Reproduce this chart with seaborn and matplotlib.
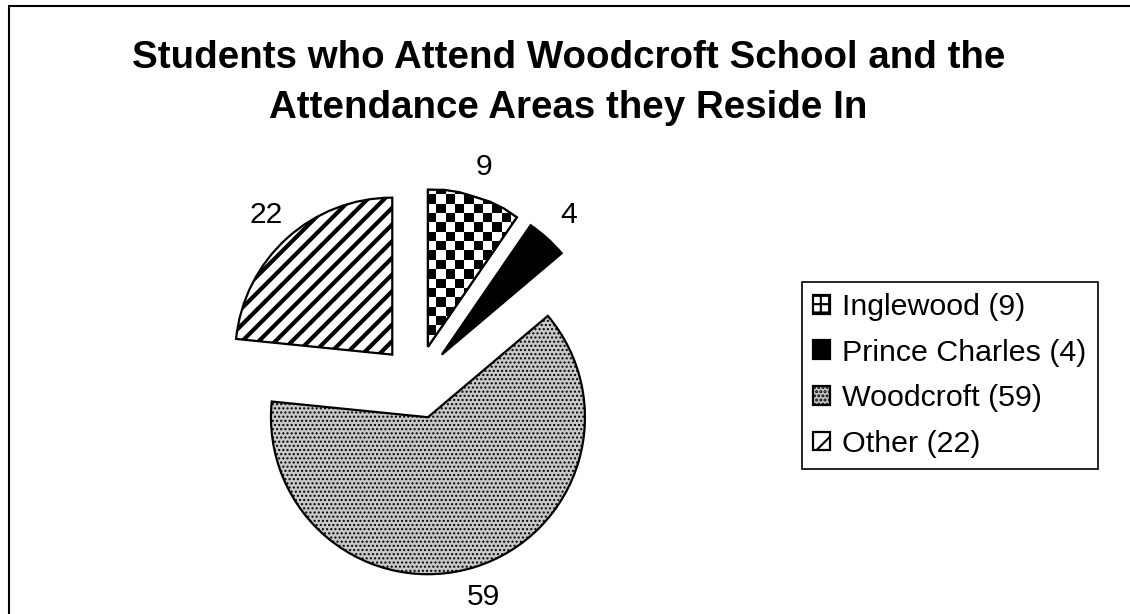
import numpy as np
import matplotlib
matplotlib.use("Agg")
import matplotlib.pyplot as plt
from matplotlib.lines import Line2D
import seaborn as sns

# ---- data ----
areas = ["Inglewood", "Prince Charles", "Woodcroft", "Other"]
students = [9, 4, 59, 22]
title = "Students who Attend Woodcroft School and the\nAttendance Areas they Reside In"

sns.set_theme(style="white")
plt.rcParams["font.family"] = ["Liberation Sans", "DejaVu Sans"]
plt.rcParams["text.color"] = "black"
plt.rcParams["hatch.linewidth"] = 3.0

fig = plt.figure(figsize=(11.3, 6.14), dpi=100)
fig.patch.set_facecolor("white")

ax = fig.add_axes([0.1954, 0.0582, 0.3473, 0.6393])

face = ["white", "black", "#c8c8c8", "white"]
hatches = ["", "", "....", "//"]
wedges, texts = ax.pie(
    students,
    labels=[str(v) for v in students],
    colors=face,
    hatch=hatches,
    explode=[0.235] * len(students),
    startangle=90,
    counterclock=False,
    labeldistance=1.2,
    radius=1.0,
    wedgeprops=dict(edgecolor="black", linewidth=1.6),
    textprops=dict(fontsize=21.6, color="black", ha="center", va="center"),
    frame=True,
)
ax.set_xlim(-1.25, 1.25)
ax.set_ylim(-1.25, 1.25)
ax.set_aspect("equal")
ax.axis("off")

for w, h in zip(wedges, hatches):
    try:
        w.set_hatch_linewidth(3.0 if h == "//" else 1.0)
    except AttributeError:
        pass

# checker texture for Inglewood wedge
n = 42
checker = (np.add.outer(np.arange(n), np.arange(n)) % 2).astype(float)
img = ax.imshow(checker, cmap="gray_r", vmin=0, vmax=1, interpolation="nearest",
                extent=(-1.25, 1.25, -1.25, 1.25), zorder=wedges[0].get_zorder() + 0.1)
img.set_clip_path(wedges[0])
ax.add_patch(plt.Polygon(wedges[0].get_path().vertices, closed=True, fill=False,
                         edgecolor="black", linewidth=1.6,
                         transform=wedges[0].get_transform(), zorder=img.get_zorder() + 0.1))
ax.set_xlim(-1.25, 1.25)
ax.set_ylim(-1.25, 1.25)

fig.text(0.503, 1 - 83 / 614, title, ha="center", va="center", fontsize=27.7,
         fontweight="bold", linespacing=1.47, color="black")

leg_labels = [f"{a} ({v})" for a, v in zip(areas, students)]
leg = fig.legend(
    wedges, leg_labels,
    loc="upper left", bbox_to_anchor=(802 / 1130, 1 - 282 / 614),
    bbox_transform=fig.transFigure, borderaxespad=0,
    fontsize=21.9, frameon=True, fancybox=False, shadow=False, framealpha=1,
    handlelength=0.57, handleheight=0.57, handletextpad=0.4,
    borderpad=0.36, labelspacing=0.58,
)
leg.get_frame().set_edgecolor("black")
leg.get_frame().set_linewidth(1.2)
for t in leg.get_texts():
    t.set_color("black")
for hnd in leg.legend_handles:
    try:
        hnd.set_hatch_linewidth(1.5)
    except AttributeError:
        pass
leg.legend_handles[0].set_hatch("++")
leg.legend_handles[3].set_hatch("/")

# figure border (top and left)
fig.add_artist(Line2D([9 / 1130, 9 / 1130], [0, 1 - 6 / 614], transform=fig.transFigure,
                      color="black", linewidth=1.5))
fig.add_artist(Line2D([9 / 1130, 1], [1 - 6 / 614, 1 - 6 / 614], transform=fig.transFigure,
                      color="black", linewidth=1.5))

fig.savefig("out.png", dpi=100, facecolor="white")
